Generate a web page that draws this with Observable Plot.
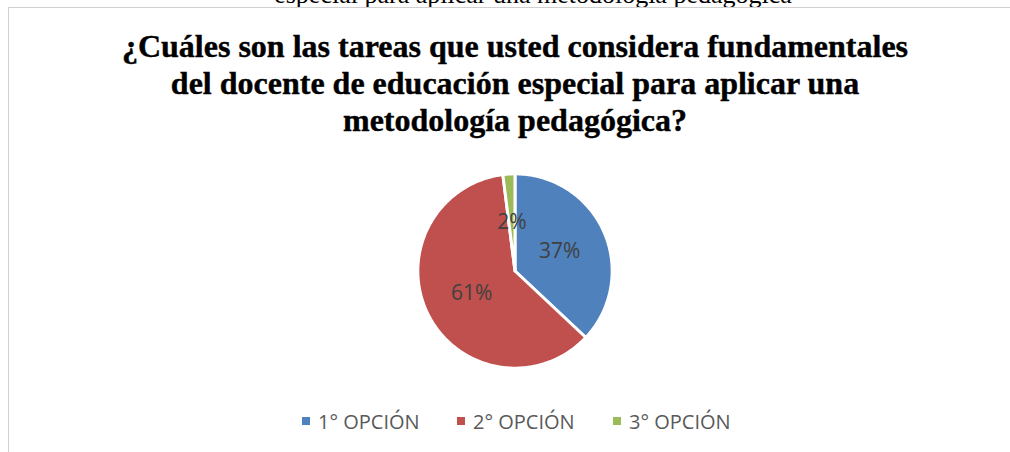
<!DOCTYPE html>
<html>
<head>
<meta charset="utf-8">
<script src="https://cdn.jsdelivr.net/npm/d3@7"></script>
<script src="https://cdn.jsdelivr.net/npm/@observablehq/plot@0.6"></script>
<style>
  html, body { margin: 0; padding: 0; background: #fff; width: 1010px; height: 452px; overflow: hidden; position: relative; }
  #caption { position: absolute; left: 0; width: 1066px; top: -18px; text-align: center; font-family: "Liberation Serif", "Times New Roman", serif; font-size: 26px; line-height: 26px; color: #000; white-space: nowrap; }
  #frame { position: absolute; left: 8px; top: 7px; width: 1100px; height: 600px; border-left: 1px solid #D0D0D0; border-top: 1px solid #D0D0D0; }
  #title { position: absolute; left: 0; width: 1030px; top: 28px; text-align: center; font-family: "Liberation Serif", "Times New Roman", serif; font-weight: bold; font-size: 32px; line-height: 37px; color: #000; -webkit-text-stroke: 0.4px #000; }
  #pie { position: absolute; left: 412px; top: 168px; }
  #legend { position: absolute; top: 408px; left: 0; width: 1010px; height: 26px; font-family: "Open Sans", sans-serif; font-size: 20px; color: #595959; }
  .item { position: absolute; top: 0; height: 26px; display: flex; align-items: center; white-space: nowrap; }
  .sw { width: 8px; height: 8px; margin-right: 8px; }
</style>
</head>
<body>
<div id="caption"></div>
<div id="frame"></div>
<div id="title"></div>
<div id="pie"></div>
<div id="legend"></div>
<script>
const captionText = "especial para aplicar una metodología pedagógica";
const titleLines = [
  "¿Cuáles son las tareas que usted considera fundamentales",
  "del docente de educación especial para aplicar una",
  "metodología pedagógica?"
];
const categories = ["1° OPCIÓN", "2° OPCIÓN", "3° OPCIÓN"];
const values = [37, 61, 2];
const colors = ["#4F81BD", "#C0504D", "#9BBB59"];
const legendLeft = [302, 457, 613];

document.getElementById("caption").textContent = captionText;
document.getElementById("title").innerHTML = titleLines.map(t => `<div>${t}</div>`).join("");

// slice geometry from the data
const arcs = d3.pie().sort(null)(values);
const outline = [];
const labels = [];
arcs.forEach((a, i) => {
  const cat = categories[i];
  outline.push({cat, x: 0, y: 0});
  const n = Math.max(2, Math.ceil((a.endAngle - a.startAngle) / 0.02));
  for (let k = 0; k <= n; k++) {
    const t = a.startAngle + (a.endAngle - a.startAngle) * k / n;
    outline.push({cat, x: Math.sin(t), y: Math.cos(t)});
  }
  const m = (a.startAngle + a.endAngle) / 2;
  labels.push({cat, x: 0.5 * Math.sin(m), y: 0.5 * Math.cos(m), label: `${values[i]}%`});
});

const R = 1.055;
const chart = Plot.plot({
  width: 205, height: 205,
  margin: 0,
  x: {domain: [-R, R], axis: null},
  y: {domain: [-R, R], axis: null},
  color: {domain: categories, range: colors},
  style: {background: "transparent", overflow: "visible"},
  marks: [
    Plot.line(outline, {x: "x", y: "y", z: "cat", fill: "cat", stroke: "white", strokeWidth: 3, strokeLinejoin: "round", curve: "linear-closed"}),
    Plot.text(labels, {x: "x", y: "y", text: "label", fill: "#404040", fontSize: 21, fontFamily: "Open Sans, sans-serif"})
  ]
});
document.getElementById("pie").appendChild(chart);

const legend = document.getElementById("legend");
categories.forEach((c, i) => {
  const it = document.createElement("div");
  it.className = "item";
  it.style.left = legendLeft[i] + "px";
  it.innerHTML = `<span class="sw" style="background:${colors[i]}"></span><span>${c}</span>`;
  legend.appendChild(it);
});
</script>
</body>
</html>
